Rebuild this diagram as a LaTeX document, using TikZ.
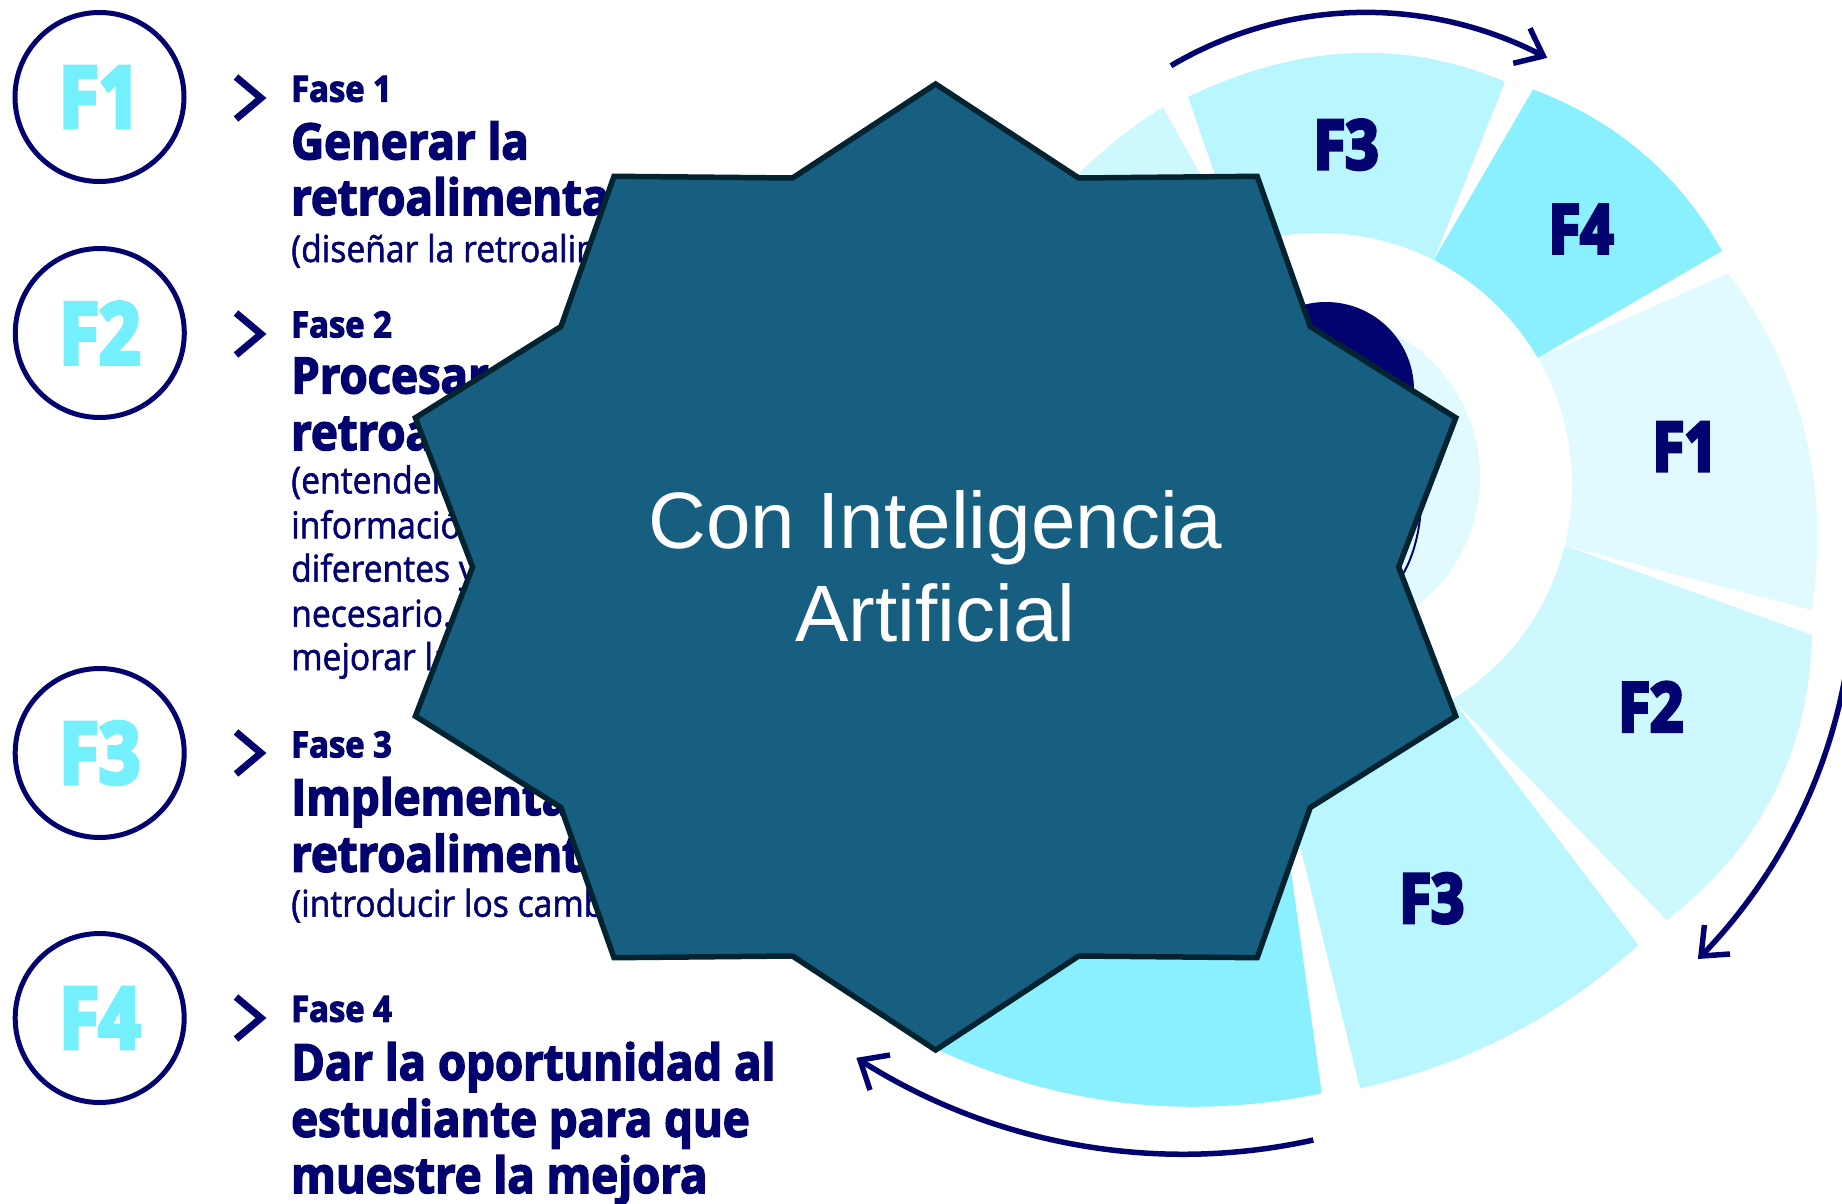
\documentclass[tikz,border=0pt]{standalone}
\usepackage{fontspec}
\setmainfont{Liberation Sans}
\newfontfamily\titlefont{Open Sans}[FakeStretch=0.91, FakeBold=3]
\newfontfamily\bodyfont{Open Sans}[FakeStretch=0.91, FakeBold=1.5]
\newfontfamily\labelfont{Open Sans}[FakeStretch=0.85, FakeBold=5]
\definecolor{navy}{RGB}{3,3,112}
\definecolor{fcyan}{RGB}{116,240,253}
\definecolor{cFfour}{RGB}{138,240,254}
\definecolor{cFthree}{RGB}{186,246,254}
\definecolor{cFtwo}{RGB}{205,248,254}
\definecolor{cFone}{RGB}{225,250,255}
\definecolor{starfill}{RGB}{23,95,128}
\definecolor{starline}{RGB}{4,35,48}
\begin{document}
\begin{tikzpicture}[x=1pt,y=-1pt,
  pcircle/.style={circle,draw=navy,line width=5pt,minimum size=169pt,inner sep=0pt,
    text=fcyan,font=\labelfont\bfseries\fontsize{85}{90}\selectfont},
  chev/.style={draw=navy,line width=7pt,miter limit=10},
  fase/.style={anchor=base west,inner sep=0pt,text=navy,font=\titlefont\bfseries\fontsize{36}{40}\selectfont},
  ttl/.style={anchor=base west,inner sep=0pt,text=navy,font=\titlefont\bfseries\fontsize{50}{56}\selectfont},
  body/.style={anchor=base west,inner sep=0pt,text=navy,font=\bodyfont\fontsize{37}{44}\selectfont},
  seglabel/.style={inner sep=0pt,text=navy,font=\labelfont\bfseries\fontsize{68}{72}\selectfont},
  aitext/.style={anchor=base,inner sep=0pt,text=white,font=\fontsize{80}{96}\selectfont},
  arrowline/.style={draw=navy,line width=5.5pt},
  arrowhead/.style={draw=navy,line width=5.5pt,line join=miter},
  starstyle/.style={fill=starfill,draw=starline,line width=5.5pt,line join=miter}
]
\useasboundingbox (0,0) rectangle (1842,1204);
\clip (0,0) rectangle (1842,1204);
\fill[white] (0,0) rectangle (1842,1204);

% ---------- ring ----------
\coordinate (C) at (1320,485);
\fill[cFtwo] (1240,246) -- (1163,107) .. controls (1110,140) and (1040,200) .. (975,300) -- (1094.5,372.5) -- (C) -- cycle;
\fill[cFthree] (1240,246) -- (1188,97) .. controls (1298.3,43.8) and (1404,38.7) .. (1505,81.7) -- (1433.6,260.1) -- (C) -- cycle;
\fill[cFfour] (1433.6,260.1) -- (1533,89.5) .. controls (1615.3,120) and (1679,173.9) .. (1722,251) -- (1537.6,357.9) -- (C) -- cycle;
\fill[cFone] (1537.6,357.9) -- (1728.3,273.3) .. controls (1802.7,374) and (1830.5,486.2) .. (1811.7,610) -- (1564.6,545.5) -- (C) -- cycle;
\fill[cFtwo] (1564.6,545.5) -- (1812,635) .. controls (1808.7,753) and (1760.3,848) .. (1666.7,920) -- (1452.4,699.4) -- (C) -- cycle;
\fill[cFthree] (1452.4,699.4) -- (1638.3,945) .. controls (1558.4,1017.7) and (1465.6,1065.4) .. (1360,1088.3) -- (1271.9,732.4) -- (C) -- cycle;
\fill[cFfour] (1271.9,732.4) -- (1321.7,1093.3) .. controls (1188.2,1120.9) and (1059.7,1106.1) .. (936,1049) -- (1101.8,611) -- (C) -- cycle;
\fill[white] (C) circle[radius=252];
\fill[cFone] (1317,477) circle[radius=163];
\fill[navy] (1326,390) circle[radius=88];
\draw[navy,line width=2pt] (1421,505) .. controls (1420,530) and (1414,555) .. (1403,574);

\node[seglabel] (s3t) at (1346,144.7) {F3};
\node[seglabel] (s4) at (1581,229) {F4};
\node[seglabel] (s1) at (1685,446.7) {F1};
\node[seglabel] (s2) at (1650.7,706.7) {F2};
\node[seglabel] (s3b) at (1431.7,898.3) {F3};

% ---------- arrows ----------
\coordinate (a1s) at (1171,65.7);
\coordinate (a1t) at (1543.3,56);
\draw[arrowline] (a1s) arc[start angle=-120.6, end angle=-62.4, radius=383];
\draw[arrowhead] (1530,28.3) -- (a1t) -- (1513.3,63.3);
\coordinate (a2s) at (1851.8,627.2);
\coordinate (a2t) at (1701,956);
\draw[arrowline] (a2s) arc[start angle=5, end angle=44.2, radius=539];
\draw[arrowhead] (1704.4,925) -- (a2t) -- (1730,954);
\coordinate (a3s) at (1313.3,1140);
\coordinate (a3t) at (860,1060);
\draw[arrowline] (a3s) arc[start angle=77.5, end angle=122.5, radius=601.8];
\draw[arrowhead] (890,1055) -- (a3t) -- (870,1090);

% ---------- left column ----------
\node[pcircle] (c1) at (99.5,97) {F1};
\node[pcircle] (c2) at (99.8,333) {F2};
\node[pcircle] (c3) at (99.7,753) {F3};
\node[pcircle] (c4) at (99.7,1018) {F4};
\draw[chev] (236,77) -- (261,98) -- (236,119);
\draw[chev] (236,313) -- (261,334) -- (236,355);
\draw[chev] (236,732) -- (261,753) -- (236,774);
\draw[chev] (236,997) -- (261,1018) -- (236,1039);

\node[fase] (f1a) at (291,101.7) {Fase 1};
\node[ttl]  (f1b) at (291,159.3) {Generar la};
\node[ttl]  (f1c) at (291,215) {retroalimentación};
\node[body] (f1d) at (291,262) {(diseñar la retroalimentación)};

\node[fase] (f2a) at (291,337.3) {Fase 2};
\node[ttl]  (f2b) at (291,393.3) {Procesar};
\node[ttl]  (f2c) at (291,450) {retroalimentación};
\node[body] (f2d) at (291,493.3) {(entender};
\node[body] (f2e) at (291,538.3) {información};
\node[body] (f2f) at (291,581.7) {diferentes y};
\node[body] (f2g) at (291,626.7) {necesario.};
\node[body] (f2h) at (291,670) {mejorar la};

\node[fase] (f3a) at (291,757.3) {Fase 3};
\node[ttl]  (f3b) at (291,815) {Implementar};
\node[ttl]  (f3c) at (291,871.7) {retroalimentación};
\node[body] (f3d) at (291,916.7) {(introducir los cambios};

\node[fase] (f4a) at (291,1021.7) {Fase 4};
\node[ttl]  (f4b) at (291,1080) {Dar la oportunidad al};
\node[ttl]  (f4c) at (291,1136.7) {estudiante para que};
\node[ttl]  (f4d) at (291,1193) {muestre la mejora};

% ---------- star ----------
\draw[starstyle] (935.6,84) -- (1078.7,178) -- (1257.2,176.3) -- (1310.2,326.5) -- (1455.8,417.8)
  -- (1398.6,567) -- (1455.8,716.2) -- (1310.2,807.5) -- (1257.2,957.7) -- (1078.7,956)
  -- (935.6,1050) -- (792.5,956) -- (614,957.7) -- (561,807.5) -- (415.4,716.2)
  -- (472.6,567) -- (415.4,417.8) -- (561,326.5) -- (614,176.3) -- (792.5,178) -- cycle;
\node[aitext] (ai1) at (935.6,548) {Con Inteligencia};
\node[aitext] (ai2) at (935.6,641.6) {Artificial};
\end{tikzpicture}
\end{document}
